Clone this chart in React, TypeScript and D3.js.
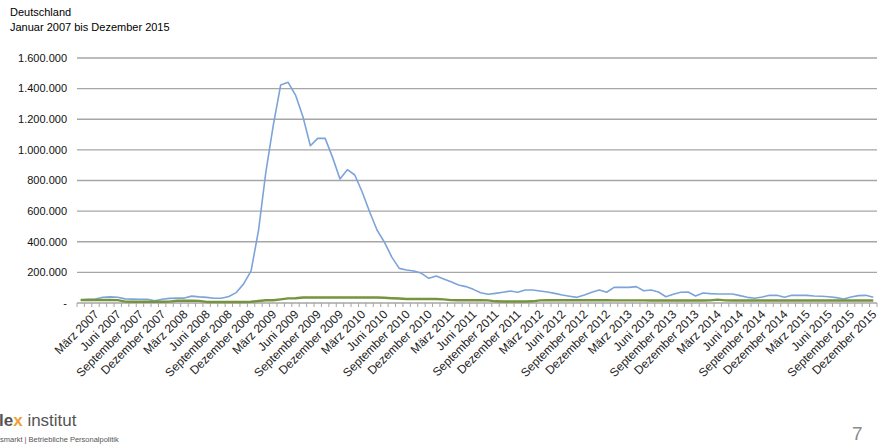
import React from "react";
import * as d3 from "d3";

const monthNames = ["Januar","Februar","März","April","Mai","Juni","Juli","August","September","Oktober","November","Dezember"];
const years = [2007, 2008, 2009, 2010, 2011, 2012, 2013, 2014, 2015];
const yTicks = [0, 200000, 400000, 600000, 800000, 1000000, 1200000, 1400000, 1600000];

// Kurzarbeiter (blue), Jan 2007 - Dez 2015
const blueValues = [
  20000, 24000, 26000, 38000, 40000, 38000, 27000, 25000, 24000, 24000, 14000, 24000,
  30000, 32000, 32000, 45000, 40000, 37000, 31000, 31000, 42000, 68000, 125000, 210000,
  472000, 857000, 1162000, 1424000, 1441000, 1358000, 1217000, 1027000, 1075000, 1075000, 951000, 810000,
  871000, 836000, 725000, 596000, 477000, 398000, 300000, 226000, 215000, 209000, 194000, 161000,
  176000, 157000, 139000, 118000, 107000, 89000, 67000, 57000, 63000, 70000, 78000, 70000,
  85000, 85000, 78000, 72000, 63000, 52000, 44000, 37000, 52000, 70000, 85000, 70000,
  102000, 102000, 102000, 107000, 80000, 85000, 72000, 41000, 57000, 70000, 72000, 46000,
  65000, 61000, 59000, 59000, 59000, 48000, 37000, 31000, 39000, 50000, 50000, 37000,
  50000, 50000, 50000, 46000, 44000, 41000, 35000, 26000, 39000, 48000, 50000, 37000,
];

// green series
const greenValues = [
  20000, 20000, 20000, 20000, 20000, 19000, 9000, 8000, 8000, 8000, 8000, 8000,
  9000, 15000, 15000, 15000, 14000, 7000, 7000, 7000, 7000, 7000, 7000, 8000,
  13000, 18000, 18000, 24000, 30000, 31000, 36000, 36000, 36000, 36000, 36000, 36000,
  36000, 36000, 36000, 36000, 36000, 34000, 31000, 29000, 26000, 26000, 26000, 26000,
  26000, 24000, 19000, 18000, 18000, 18000, 18000, 17000, 11000, 10000, 10000, 10000,
  10000, 11000, 17000, 18000, 18000, 18000, 18000, 18000, 18000, 18000, 18000, 18000,
  17000, 17000, 17000, 17000, 17000, 16000, 16000, 16000, 16000, 16000, 16000, 16000,
  16000, 17000, 22000, 17000, 16000, 16000, 16000, 16000, 16000, 16000, 16000, 16000,
  16000, 16000, 16000, 16000, 16000, 16000, 16000, 16000, 16000, 16000, 16000, 16000,
];

const months: string[] = [];
years.forEach((y) => monthNames.forEach((m) => months.push(`${m} ${y}`)));

const FONT = "'Liberation Sans', Arial, sans-serif";

export default function App() {
  const left = 77, right = 877, top = 58, bottom = 303;
  const x = d3.scaleBand<string>().domain(months).range([left, right]).padding(0);
  const y = d3.scaleLinear().domain([0, 1600000]).range([bottom, top]);
  const cx = (i: number) => (x(months[i]) as number) + x.bandwidth() / 2;
  const line = d3.line<number>().x((_, i) => cx(i)).y((d) => y(d));
  const fmt = (v: number) => (v === 0 ? "-" : d3.format(",")(v).replace(/,/g, "."));

  const boundaries = months.map((m) => x(m) as number).concat([right]);

  return (
    <svg width={878} height={446} style={{ position: "absolute", left: 0, top: 0, background: "#fff" }} fontFamily={FONT}>
      <rect width={878} height={446} fill="#fff" />
      <text x={10} y={16} fontSize={11} fill="#000">Deutschland</text>
      <text x={10} y={30.5} fontSize={11} fill="#000">Januar 2007 bis Dezember 2015</text>

      {yTicks.map((t) => (
        <g key={t}>
          {t > 0 && <line x1={left} x2={right} y1={y(t)} y2={y(t)} stroke="#A6A6A6" strokeWidth={1.3} />}
          <text x={67} y={y(t)} dy="0.35em" textAnchor="end" fontSize={11} fill="#111">{fmt(t)}</text>
        </g>
      ))}

      <line x1={left} x2={right} y1={bottom} y2={bottom} stroke="#A6A6A6" strokeWidth={1.3} />
      {boundaries.map((b, i) => (
        <line key={i} x1={b} x2={b} y1={bottom} y2={bottom + 4} stroke="#A6A6A6" strokeWidth={1} />
      ))}

      <path d={line(blueValues) || ""} fill="none" stroke="#7CA4D9" strokeWidth={1.6} strokeLinejoin="round" />
      <path d={line(greenValues) || ""} fill="none" stroke="#77933C" strokeWidth={2.4} strokeLinejoin="round" />

      {months.map((m, i) =>
        i % 3 === 2 ? (
          <text key={m} transform={`translate(${cx(i) + 1},${bottom + 9}) rotate(-45)`} textAnchor="end" dy="0.35em" fontSize={12} fill="#222">
            {m}
          </text>
        ) : null
      )}

      <text x={-1} y={426} fontSize={17} fill="#555">
        <tspan fontWeight="bold">le</tspan>
        <tspan fontWeight="bold" fill="#F0A030">x</tspan>
        <tspan> institut</tspan>
      </text>
      <text x={0} y={442} fontSize={7.5} fill="#555">smarkt | Betriebliche Personalpolitik</text>
      <text x={852} y={440} fontSize={19} fill="#8A8A8A">7</text>
    </svg>
  );
}
